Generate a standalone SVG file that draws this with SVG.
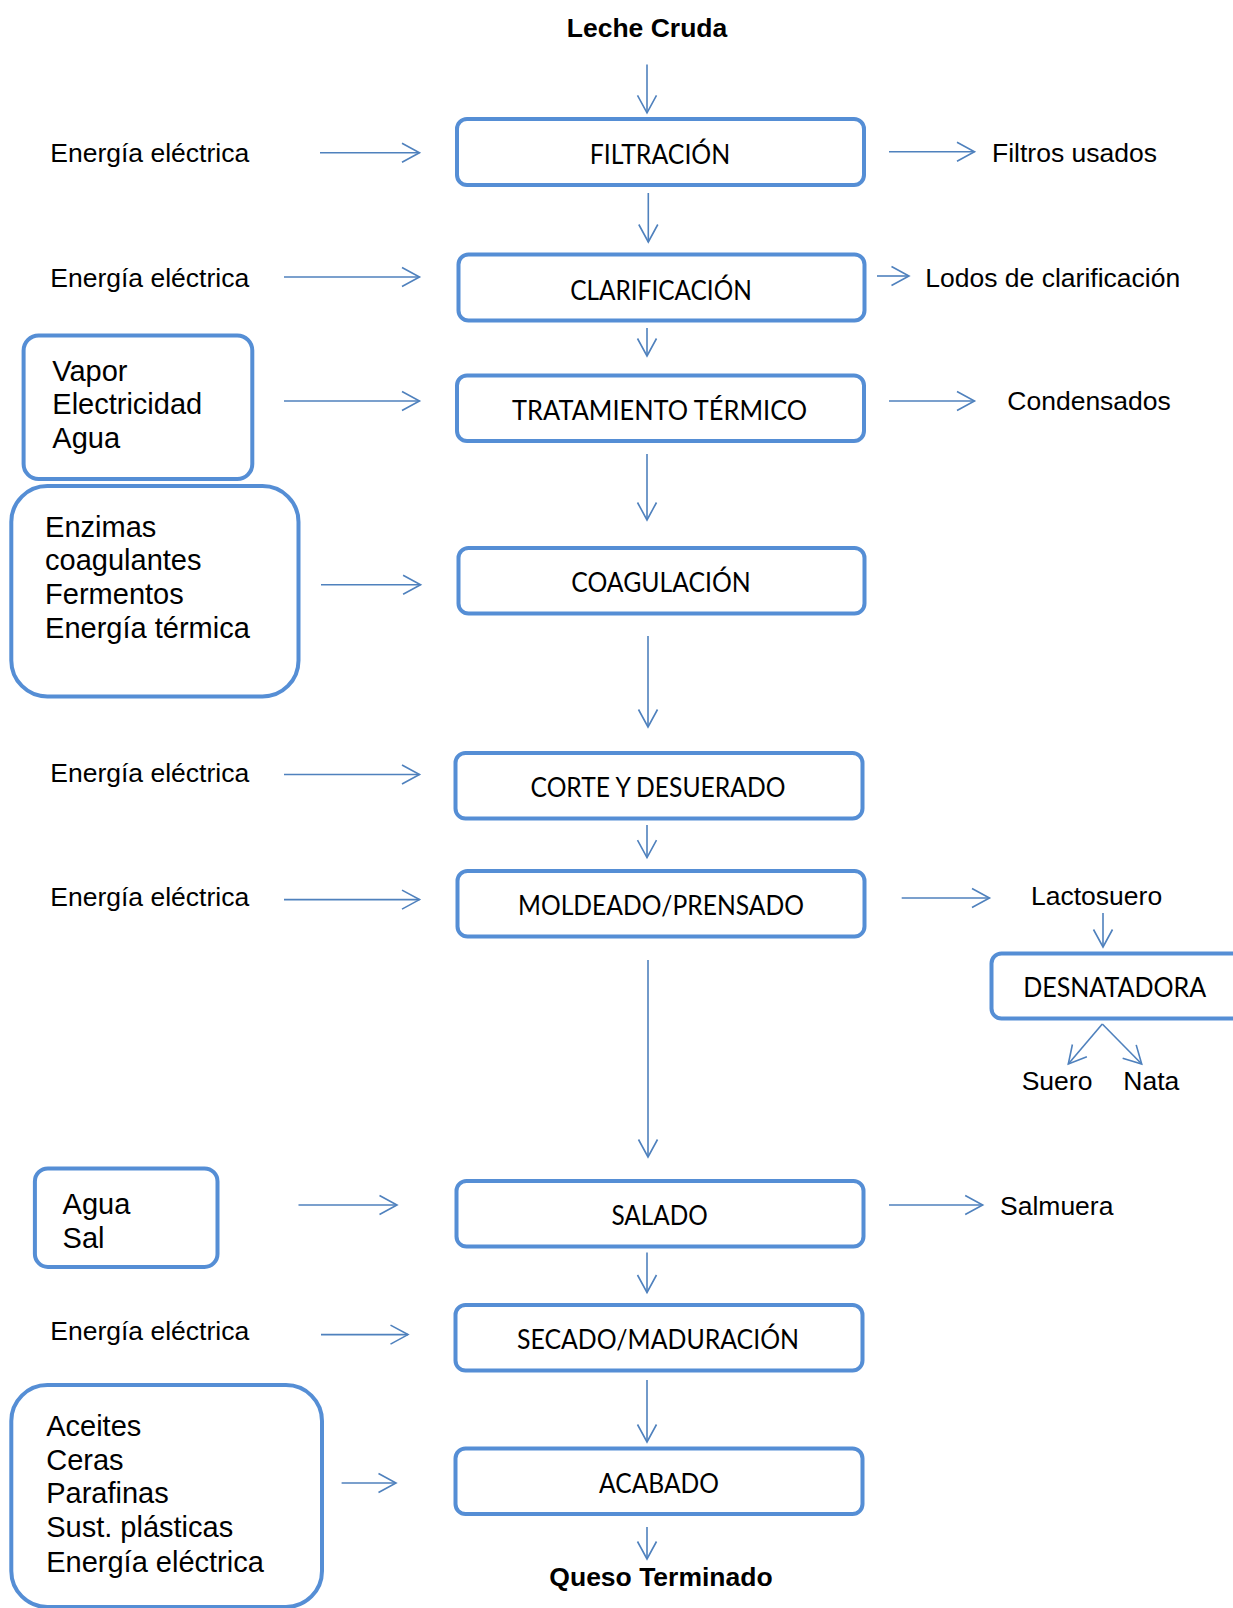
<svg xmlns="http://www.w3.org/2000/svg" width="1233" height="1608" viewBox="0 0 1233 1608">
<style>
.box{fill:#fff;stroke:#558ed5;stroke-width:4}
.lbl{font-family:Lato,"Open Sans","Noto Sans",sans-serif;font-size:26px;fill:#000;text-anchor:middle}
.t{font-family:"Liberation Sans",Arial,sans-serif;font-size:26.5px;fill:#000}
.tb{font-family:"Liberation Sans",Arial,sans-serif;font-size:29px;fill:#000}
.bold{font-family:"Liberation Sans",Arial,sans-serif;font-size:26.5px;font-weight:bold;fill:#000;text-anchor:middle}
.c line{stroke:#4f81bd;stroke-width:1.6;marker-end:url(#ah)}
</style>
<defs>
<marker id="ah" markerUnits="userSpaceOnUse" markerWidth="22" markerHeight="22" refX="18" refY="10" orient="auto" overflow="visible">
<path d="M0.5,0.5 L18,10 L0.5,19.5" fill="none" stroke="#4f81bd" stroke-width="1.6"/>
</marker>
</defs>
<rect width="1233" height="1608" fill="#fff"/>

<g id="leche"><text class="bold" x="647" y="37">Leche Cruda</text></g>
<g id="queso"><text class="bold" x="661" y="1586">Queso Terminado</text></g>

<g id="filtracion"><rect class="box" x="457" y="119" width="407" height="66" rx="10"/><text class="lbl" x="660" y="163.5" textLength="140.5" lengthAdjust="spacingAndGlyphs">FILTRACIÓN</text></g>
<g id="clarificacion"><rect class="box" x="458.5" y="254.5" width="406" height="66" rx="10"/><text class="lbl" x="661" y="299.5" textLength="181.6" lengthAdjust="spacingAndGlyphs">CLARIFICACIÓN</text></g>
<g id="tratamiento"><rect class="box" x="457" y="375.5" width="407" height="65.5" rx="10"/><text class="lbl" x="659.6" y="420" textLength="295" lengthAdjust="spacingAndGlyphs">TRATAMIENTO TÉRMICO</text></g>
<g id="coagulacion"><rect class="box" x="458.5" y="548" width="406" height="65.5" rx="10"/><text class="lbl" x="661" y="592" textLength="179.5" lengthAdjust="spacingAndGlyphs">COAGULACIÓN</text></g>
<g id="corte"><rect class="box" x="455.5" y="753" width="407" height="65.5" rx="10"/><text class="lbl" x="658" y="797" textLength="255" lengthAdjust="spacingAndGlyphs">CORTE Y DESUERADO</text></g>
<g id="moldeado"><rect class="box" x="457.5" y="871" width="407" height="65.5" rx="10"/><text class="lbl" x="661" y="915" textLength="286" lengthAdjust="spacingAndGlyphs">MOLDEADO/PRENSADO</text></g>
<g id="salado"><rect class="box" x="456.5" y="1181" width="407" height="65.5" rx="10"/><text class="lbl" x="659.6" y="1225" textLength="96.4" lengthAdjust="spacingAndGlyphs">SALADO</text></g>
<g id="secado"><rect class="box" x="455.5" y="1305" width="407" height="65.5" rx="10"/><text class="lbl" x="658" y="1349" textLength="282" lengthAdjust="spacingAndGlyphs">SECADO/MADURACIÓN</text></g>
<g id="acabado"><rect class="box" x="455.5" y="1448.5" width="407" height="65.5" rx="10"/><text class="lbl" x="659" y="1492.6" textLength="120" lengthAdjust="spacingAndGlyphs">ACABADO</text></g>
<g id="desnatadora"><rect class="box" x="991.5" y="953.5" width="262" height="65" rx="10"/><text class="lbl" x="1114.7" y="997.3" textLength="183" lengthAdjust="spacingAndGlyphs">DESNATADORA</text></g>

<g id="in-filtracion"><text class="t" x="50.3" y="162">Energía eléctrica</text></g>
<g id="in-clarificacion"><text class="t" x="50.3" y="286.5">Energía eléctrica</text></g>
<g id="in-tratamiento"><rect class="box" x="23.6" y="335.4" width="228.7" height="143.6" rx="15"/><text class="tb" x="52.3" y="381">Vapor</text><text class="tb" x="52.3" y="414.4">Electricidad</text><text class="tb" x="52.3" y="448">Agua</text></g>
<g id="in-coagulacion"><rect class="box" x="11.3" y="486" width="287.2" height="210.5" rx="36"/><text class="tb" x="45.1" y="536.6">Enzimas</text><text class="tb" x="45.1" y="570.3">coagulantes</text><text class="tb" x="45.1" y="603.5">Fermentos</text><text class="tb" x="45.1" y="638">Energía térmica</text></g>
<g id="in-corte"><text class="t" x="50.3" y="782">Energía eléctrica</text></g>
<g id="in-moldeado"><text class="t" x="50.3" y="906">Energía eléctrica</text></g>
<g id="in-salado"><rect class="box" x="34.9" y="1168.4" width="182.6" height="98.6" rx="13"/><text class="tb" x="62.6" y="1213.6">Agua</text><text class="tb" x="62.6" y="1247.5">Sal</text></g>
<g id="in-secado"><text class="t" x="50.3" y="1340">Energía eléctrica</text></g>
<g id="in-acabado"><rect class="box" x="11.3" y="1385" width="310.7" height="222" rx="36"/><text class="tb" x="46.2" y="1436.3">Aceites</text><text class="tb" x="46.2" y="1470">Ceras</text><text class="tb" x="46.2" y="1503.3">Parafinas</text><text class="tb" x="46.2" y="1537">Sust. plásticas</text><text class="tb" x="46.2" y="1571.5">Energía eléctrica</text></g>

<g id="out-filtros"><text class="t" x="992" y="162">Filtros usados</text></g>
<g id="out-lodos"><text class="t" x="925.3" y="286.5">Lodos de clarificación</text></g>
<g id="out-condensados"><text class="t" x="1007.3" y="409.5">Condensados</text></g>
<g id="out-lactosuero"><text class="t" x="1031" y="905">Lactosuero</text></g>
<g id="out-suero"><text class="t" x="1021.7" y="1090">Suero</text></g>
<g id="out-nata"><text class="t" x="1123.3" y="1090">Nata</text></g>
<g id="out-salmuera"><text class="t" x="1000" y="1215">Salmuera</text></g>

<g id="connectors" class="c">
<line x1="647" y1="64.6" x2="647" y2="112.8"/>
<line x1="648.3" y1="193" x2="648.3" y2="242"/>
<line x1="647" y1="328" x2="647" y2="356"/>
<line x1="647" y1="454" x2="647" y2="520"/>
<line x1="648" y1="636" x2="648" y2="727"/>
<line x1="647" y1="825" x2="647" y2="857.6"/>
<line x1="648" y1="960" x2="648" y2="1157"/>
<line x1="647" y1="1252.5" x2="647" y2="1292.5"/>
<line x1="647" y1="1380" x2="647" y2="1442"/>
<line x1="647" y1="1527" x2="647" y2="1559"/>

<line x1="320" y1="152.8" x2="419.5" y2="152.8"/>
<line x1="284" y1="277" x2="419.5" y2="277"/>
<line x1="284" y1="401" x2="419.5" y2="401"/>
<line x1="321" y1="584.7" x2="420.6" y2="584.7"/>
<line x1="284" y1="774.5" x2="419.5" y2="774.5"/>
<line x1="284" y1="899.6" x2="419.5" y2="899.6"/>
<line x1="298.5" y1="1205" x2="397" y2="1205"/>
<line x1="321" y1="1334.6" x2="408" y2="1334.6"/>
<line x1="341.6" y1="1483" x2="396" y2="1483"/>

<line x1="889" y1="151.8" x2="974.5" y2="151.8"/>
<line x1="877" y1="276" x2="909" y2="276"/>
<line x1="889" y1="401" x2="974.5" y2="401"/>
<line x1="901.7" y1="898" x2="989.5" y2="898"/>
<line x1="889" y1="1205" x2="982.7" y2="1205"/>
<line x1="1103" y1="913" x2="1103" y2="947"/>
<line x1="1102.3" y1="1024" x2="1068.3" y2="1064"/>
<line x1="1102.3" y1="1024" x2="1141.7" y2="1064"/>
</g>
</svg>
